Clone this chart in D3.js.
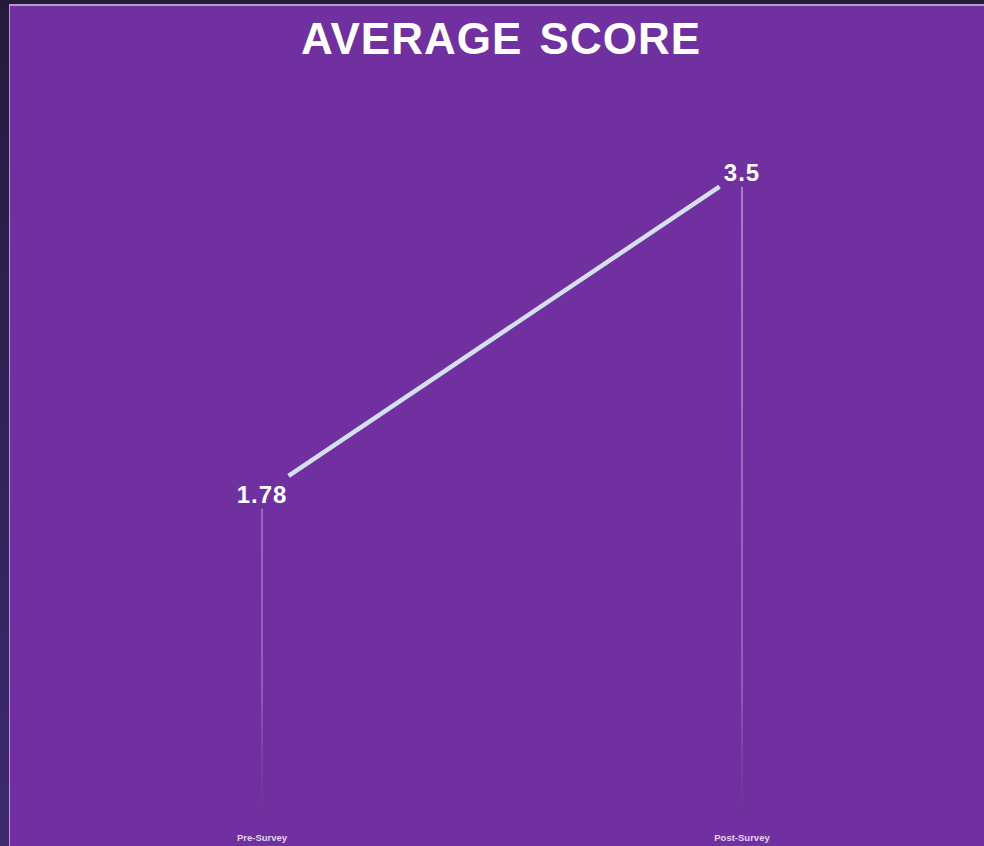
<!DOCTYPE html>
<html><head><meta charset="utf-8">
<script src="https://cdn.jsdelivr.net/npm/d3@7"></script>
<style>
html,body{margin:0;padding:0;background:#221a38;}
svg{display:block;}
</style></head>
<body>
<script>
const categories = ["Pre-Survey", "Post-Survey"];
const values = [1.78, 3.5];
const valueLabels = ["1.78", "3.5"];
const title = "AVERAGE SCORE";

const W = 984, H = 846;
const svg = d3.select("body").append("svg").attr("width", W).attr("height", H);
const defs = svg.append("defs");

const bg = defs.append("linearGradient").attr("id","bg").attr("x1",0).attr("x2",0).attr("y1",0).attr("y2",1);
bg.append("stop").attr("offset","0%").attr("stop-color","#241b3c");
bg.append("stop").attr("offset","100%").attr("stop-color","#3d2a70");
svg.append("rect").attr("width",W).attr("height",H).attr("fill","url(#bg)");

// panel
svg.append("rect").attr("x",9).attr("y",4).attr("width",W-9).attr("height",H-4).attr("fill","#b49ad0");
svg.append("rect").attr("x",10).attr("y",6).attr("width",W-10).attr("height",H-6).attr("fill","#70309f");

const fade = defs.append("linearGradient").attr("id","fade").attr("gradientUnits","userSpaceOnUse")
  .attr("x1",0).attr("x2",0).attr("y1",180).attr("y2",815);
fade.append("stop").attr("offset","0%").attr("stop-color","#c2a2e2").attr("stop-opacity",0.9);
fade.append("stop").attr("offset","80%").attr("stop-color","#a57ad0").attr("stop-opacity",0.8);
fade.append("stop").attr("offset","100%").attr("stop-color","#8a55bb").attr("stop-opacity",0);

svg.append("text").attr("x",501).attr("y",54).attr("text-anchor","middle")
  .attr("font-family","Liberation Sans, Arial, sans-serif").attr("font-weight","bold")
  .attr("font-size",44).attr("letter-spacing",1).attr("word-spacing",4)
  .attr("fill","#ffffff").text(title);

const x = d3.scalePoint().domain(categories).range([262, 742]);
const y = d3.scaleLinear().domain([0, 4]).range([827, 78]);

const g = svg.append("g");
const bottom = 812;

// drop lines
g.selectAll("line.drop").data(categories).join("line").attr("class","drop")
  .attr("x1", d => x(d)).attr("x2", d => x(d))
  .attr("y1", (d,i) => y(values[i]) + 15)
  .attr("y2", bottom)
  .attr("stroke","url(#fade)").attr("stroke-width",1.5);

// slope line, shortened at each end
const p0 = [x(categories[0]), y(values[0])], p1 = [x(categories[1]), y(values[1])];
const dx = p1[0]-p0[0], dy = p1[1]-p0[1], len = Math.hypot(dx,dy);
const s0 = 32/len, s1 = 27/len;
g.append("line")
  .attr("x1", p0[0]+dx*s0).attr("y1", p0[1]+dy*s0)
  .attr("x2", p1[0]-dx*s1).attr("y2", p1[1]-dy*s1)
  .attr("stroke","#d4e0ef").attr("stroke-width",4.5);

// value labels
g.selectAll("text.val").data(values).join("text").attr("class","val")
  .attr("x",(d,i)=>x(categories[i])).attr("y",d=>y(d)+9)
  .attr("text-anchor","middle").attr("font-family","Liberation Sans, Arial, sans-serif")
  .attr("font-weight","bold").attr("font-size",24).attr("letter-spacing",1).attr("fill","#ffffff")
  .text((d,i)=>valueLabels[i]);

// category labels
g.selectAll("text.cat").data(categories).join("text").attr("class","cat")
  .attr("x",d=>x(d)).attr("y",841).attr("text-anchor","middle")
  .attr("font-family","Liberation Sans, Arial, sans-serif").attr("font-weight","bold")
  .attr("font-size",9.5).attr("fill","#e6d4f4").text(d=>d);
</script>
</body></html>
